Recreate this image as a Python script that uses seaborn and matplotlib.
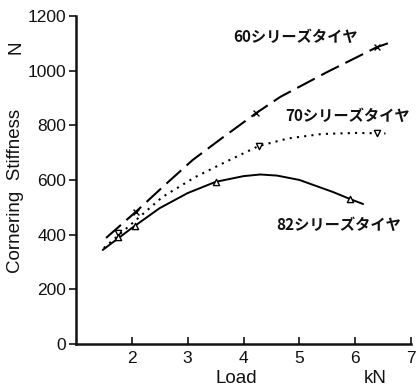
import pandas as pd
import seaborn as sns
import matplotlib.pyplot as plt

# curve points (load in kN, cornering stiffness in N)
load_60 = [1.54, 2.07, 2.6, 3.09, 3.6, 4.23, 4.66, 5.5, 6.0, 6.38, 6.63]
cs_60 = [388, 483, 583, 673, 751, 845, 904, 995, 1046, 1085, 1103]

load_70 = [1.5, 2.0, 2.55, 3.14, 3.68, 4.27, 4.8, 5.4, 6.0, 6.54]
cs_70 = [351, 440, 538, 611, 666, 724, 752, 768, 772, 770]

load_82 = [1.48, 2.0, 2.5, 3.0, 3.5, 4.0, 4.3, 4.6, 5.0, 5.6, 5.91, 6.14]
cs_82 = [344, 424, 497, 552, 593, 614, 620, 616, 600, 556, 530, 512]

# measured points (markers)
mk_load_60 = [2.07, 4.23, 6.38]
mk_cs_60 = [483, 845, 1085]
mk_load_70 = [1.75, 4.27, 6.38]
mk_cs_70 = [405, 724, 772]
mk_load_82 = [1.75, 2.05, 3.5, 5.91]
mk_cs_82 = [392, 430, 593, 530]

labels = ['60シリーズタイヤ', '70シリーズタイヤ', '82シリーズタイヤ']
label_pos = [(4.93, 1122), (5.86, 834), (5.7, 435)]

sns.set_style('ticks')
plt.rcParams['font.family'] = ['Liberation Sans', 'Noto Sans CJK JP', 'DejaVu Sans']

fig = plt.figure(figsize=(4.17, 3.87), dpi=100)
ax = fig.add_axes([0.182, 0.111, 0.804, 0.848])

sns.lineplot(x=load_60, y=cs_60, ax=ax, color='black', lw=1.5)
ax.lines[-1].set_dashes([9.5, 3.5])
sns.lineplot(x=load_70, y=cs_70, ax=ax, color='black', lw=1.5)
ax.lines[-1].set_linestyle((0, (1, 2.5)))
sns.lineplot(x=load_82, y=cs_82, ax=ax, color='black', lw=1.4)

sns.scatterplot(x=mk_load_60, y=mk_cs_60, ax=ax, marker='x', color='black', s=18, linewidth=1)
sns.scatterplot(x=mk_load_70, y=mk_cs_70, ax=ax, marker='v', facecolor='white', edgecolor='black', s=20, linewidth=1, zorder=3)
sns.scatterplot(x=mk_load_82, y=mk_cs_82, ax=ax, marker='^', facecolor='white', edgecolor='black', s=20, linewidth=1, zorder=3)

for txt, (x, y) in zip(labels, label_pos):
    ax.text(x, y, txt, ha='center', va='center', fontsize=11, fontweight='bold',
            family='Noto Sans CJK JP', color='#111111')

ax.set_xlim(1, 7)
ax.set_ylim(0, 1200)
ax.set_xticks([2, 3, 4, 5, 6, 7])
ax.set_yticks([0, 200, 400, 600, 800, 1000, 1200])
ax.tick_params(axis='x', direction='in', length=5, width=1.2, labelsize=12.5, pad=5, colors='#111111')
ax.tick_params(axis='y', direction='out', length=5, width=1.2, labelsize=12.5, pad=2, colors='#111111')
sns.despine(ax=ax)
for sp in ['left', 'bottom']:
    ax.spines[sp].set_linewidth(1.8)
    ax.spines[sp].set_color('#111111')

ax.set_xlabel('')
ax.set_ylabel('')
ax.text(0.478, -0.105, 'Load', transform=ax.transAxes, ha='center', va='center', fontsize=13.5, color='#111111')
ax.text(0.893, -0.105, 'kN', transform=ax.transAxes, ha='center', va='center', fontsize=13.5, color='#111111')
ax.text(-0.18, 0.466, 'Cornering  Stiffness', transform=ax.transAxes, ha='center', va='center',
        rotation=90, fontsize=13.5, color='#111111')
ax.text(-0.18, 0.905, 'N', transform=ax.transAxes, ha='center', va='center',
        rotation=90, fontsize=13.5, color='#111111')

fig.savefig('out.png', dpi=100)
